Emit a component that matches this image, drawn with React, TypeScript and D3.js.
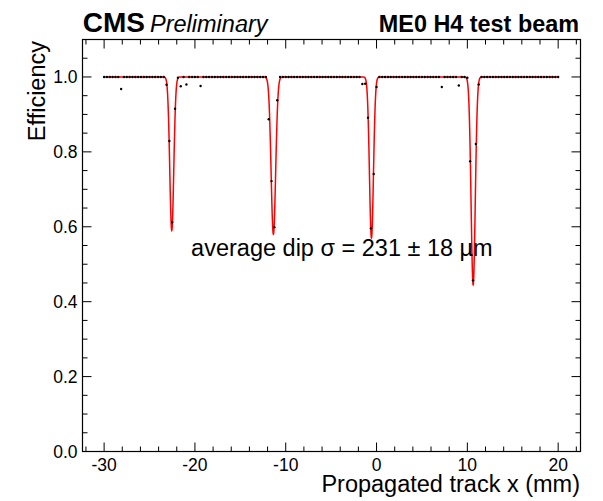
import React from "react";
import * as d3 from "d3";

// ---- data ----
const BIN_START = -30;
const BIN_WIDTH = 0.3125;
const EFFICIENCY: number[] = [
  1, 1, 1, 1, 1, 1, 0.968, 1, 1, 1,
  1, 1, 1, 1, 1, 1, 1, 1, 1, 1,
  1, 1, 0.979, 0.829, 0.612, 0.915, 0.998, 0.975, 1, 0.98,
  1, 1, 1, 1, 0.976, 1, 1, 1, 1, 1,
  1, 1, 1, 1, 1, 1, 1, 1, 1, 1,
  1, 1, 1, 1, 1, 1, 1, 1, 0.887, 0.722,
  0.599, 0.938, 1, 1, 1, 1, 1, 1, 1, 1,
  1, 1, 1, 1, 1, 1, 1, 1, 1, 1,
  1, 1, 1, 1, 1, 1, 1, 1, 1, 1,
  1, 0.981, 0.982, 0.891, 0.596, 0.741, 0.973, 1, 1, 1,
  1, 1, 1, 1, 1, 1, 1, 1, 1, 1,
  1, 1, 1, 1, 1, 1, 1, 1, 1, 0.973,
  1, 1, 1, 1, 1, 0.977, 1, 1, 0.998, 0.775,
  0.457, 0.821, 0.98, 1, 1, 1, 1, 1, 1, 1,
  1, 1, 1, 1, 1, 1, 1, 1, 1, 1,
  1, 1, 1, 1, 1, 1, 1, 1, 1, 1,
  1,
];

// fit: constant minus four gaussian dips
const FIT_BASE = 1.0;
const DIP_MEANS = [-22.55, -11.36, -0.56, 10.64];
const DIP_DEPTHS = [0.41, 0.42, 0.43, 0.555];
const DIP_SIGMAS = [0.22, 0.25, 0.22, 0.23];
const FIT_RANGE = [-30, 20];

const X_MAJOR = [-30, -20, -10, 0, 10, 20];
const Y_MAJOR = [0, 0.2, 0.4, 0.6, 0.8, 1.0];

const W = 603;
const H = 501;
const FONT = "'Liberation Sans', Arial, Helvetica, sans-serif";

export default function App() {
  const L = 82.5, R = 580.5, T = 39.5, B = 451.5;
  const x = d3.scaleLinear().domain([-32.38, 22.46]).range([L, R]);
  const y = d3.scaleLinear().domain([0, 1.1]).range([B, T]);

  const points = EFFICIENCY.map((v, i) => ({ xv: BIN_START + i * BIN_WIDTH, yv: v }));

  const fit = (xv: number) => {
    let f = FIT_BASE;
    for (let i = 0; i < DIP_MEANS.length; i++) {
      const d = xv - DIP_MEANS[i];
      f -= DIP_DEPTHS[i] * Math.exp(-(d * d) / (2 * DIP_SIGMAS[i] * DIP_SIGMAS[i]));
    }
    return f;
  };
  const fitSamples = d3.range(FIT_RANGE[0], FIT_RANGE[1] + 1e-9, 0.01);
  const fitPath = d3
    .line<number>()
    .x((d) => x(d))
    .y((d) => y(fit(d)))(fitSamples) as string;

  const xMinor = d3.range(-32, 22.01, 2).filter((v) => !X_MAJOR.includes(v));
  const yMinor = d3
    .range(0, 1.1001, 0.05)
    .map((v) => Math.round(v * 100) / 100)
    .filter((v) => !Y_MAJOR.some((m) => Math.abs(m - v) < 1e-6));

  const MAJ = 9, MIN = 5;

  return (
    <svg
      width={W}
      height={H}
      style={{ position: "absolute", left: 0, top: 0, background: "#fff" }}
      fontFamily={FONT}
    >
      <rect x={0} y={0} width={W} height={H} fill="#fff" />
      {/* fit line */}
      <path d={fitPath} fill="none" stroke="#ff0000" strokeWidth={1.5} />
      {/* data points */}
      {points.map((p, i) => (
        <circle key={i} cx={x(p.xv)} cy={y(p.yv)} r={1.2} fill="#000" />
      ))}
      {/* frame */}
      <rect x={L} y={T} width={R - L} height={B - T} fill="none" stroke="#000" strokeWidth={1.2} />
      {/* x ticks bottom & top */}
      {X_MAJOR.map((v) => (
        <g key={"xm" + v}>
          <line x1={x(v)} x2={x(v)} y1={B} y2={B - MAJ} stroke="#000" strokeWidth={1} />
          <line x1={x(v)} x2={x(v)} y1={T} y2={T + MAJ} stroke="#000" strokeWidth={1} />
          <text x={x(v)} y={471} textAnchor="middle" fontSize={17.5} fill="#000">
            {v}
          </text>
        </g>
      ))}
      {xMinor.map((v) => (
        <g key={"xn" + v}>
          <line x1={x(v)} x2={x(v)} y1={B} y2={B - MIN} stroke="#000" strokeWidth={1} />
          <line x1={x(v)} x2={x(v)} y1={T} y2={T + MIN} stroke="#000" strokeWidth={1} />
        </g>
      ))}
      {/* y ticks left & right */}
      {Y_MAJOR.map((v) => (
        <g key={"ym" + v}>
          <line x1={L} x2={L + MAJ} y1={y(v)} y2={y(v)} stroke="#000" strokeWidth={1} />
          <line x1={R} x2={R - MAJ} y1={y(v)} y2={y(v)} stroke="#000" strokeWidth={1} />
          <text x={77.5} y={y(v)} dy="0.36em" textAnchor="end" fontSize={17.5} fill="#000">
            {v.toFixed(1)}
          </text>
        </g>
      ))}
      {yMinor.map((v) => (
        <g key={"yn" + v}>
          <line x1={L} x2={L + MIN} y1={y(v)} y2={y(v)} stroke="#000" strokeWidth={1} />
          <line x1={R} x2={R - MIN} y1={y(v)} y2={y(v)} stroke="#000" strokeWidth={1} />
        </g>
      ))}
      {/* axis titles */}
      <text x={580} y={491.5} textAnchor="end" fontSize={23.5} fill="#000">
        Propagated track x (mm)
      </text>
      <text
        transform={`translate(45,${T + 1.5}) rotate(-90)`}
        textAnchor="end"
        fontSize={23.5}
        fill="#000"
      >
        Efficiency
      </text>
      {/* header */}
      <text x={82.7} y={31.7} fontSize={28} fontWeight="bold" fill="#000">
        CMS
      </text>
      <text x={150} y={31.7} fontSize={23.5} fontStyle="italic" fill="#000">
        Preliminary
      </text>
      <text x={579} y={31.7} textAnchor="end" fontSize={23.4} fontWeight="bold" fill="#000">
        ME0 H4 test beam
      </text>
      {/* annotation */}
      <text x={492.7} y={256} textAnchor="end" fontSize={23.5} fill="#000">
        average dip σ = 231 ± 18 µm
      </text>
    </svg>
  );
}
